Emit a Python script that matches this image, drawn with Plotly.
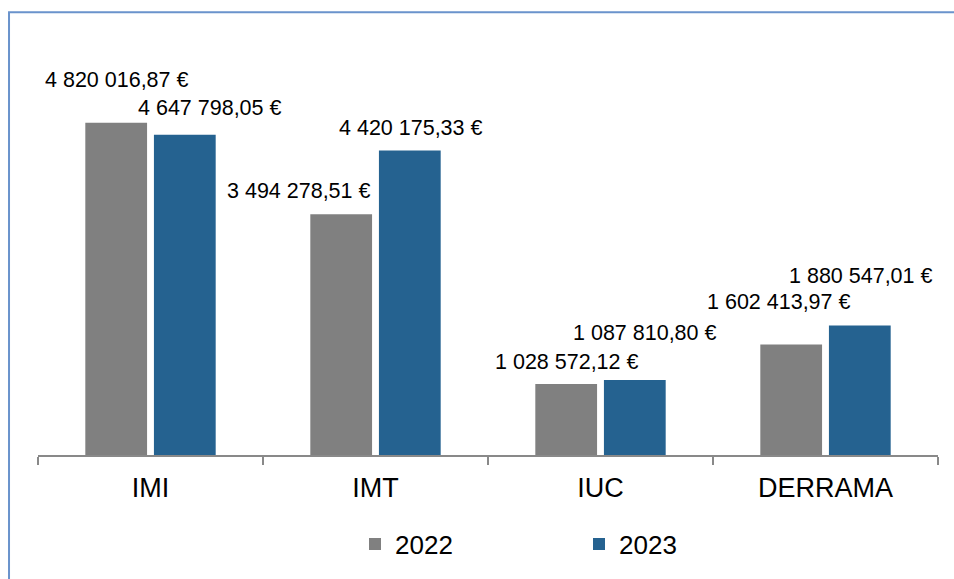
import plotly.graph_objects as go

# data
categories = ["IMI", "IMT", "IUC", "DERRAMA"]
years = ["2022", "2023"]
values_2022 = [4820016.87, 3494278.51, 1028572.12, 1602413.97]
values_2023 = [4647798.05, 4420175.33, 1087810.80, 1880547.01]

colors = {"2022": "#808080", "2023": "#256290"}
FONT = "Liberation Sans, Arial, sans-serif"

# label placement tweaks (px): extra horizontal shift, height above bar top
label_dx = {"2022": [0, -43, 0, -13], "2023": [24, 0, 9, 0]}
label_dy = {"2022": [43, 23, 22, 43], "2023": [27, 22, 47, 49]}
bar_offset = {"2022": -34, "2023": 35}


def euro(v):
    s = f"{v:,.2f}"
    s = s.replace(",", " ").replace(".", ",")
    return s + " €"


fig = go.Figure()
series = {"2022": values_2022, "2023": values_2023}
for yr in years:
    fig.add_trace(go.Bar(x=categories, y=series[yr], name=yr,
                         marker=dict(color=colors[yr], line=dict(width=0))))

# value labels
for yr in years:
    for i, cat in enumerate(categories):
        fig.add_annotation(x=cat, y=series[yr][i], xref="x", yref="y",
                           text=euro(series[yr][i]), showarrow=False,
                           xanchor="center", yanchor="middle",
                           xshift=bar_offset[yr] + label_dx[yr][i],
                           yshift=label_dy[yr][i],
                           font=dict(family=FONT, size=21.5, color="#000000"))

# outer frame
fig.add_shape(type="rect", xref="paper", yref="paper",
              x0=-0.0322, x1=1.05, y0=-0.5, y1=1.168,
              line=dict(color="#6A93CC", width=2), fillcolor="rgba(0,0,0,0)")

fig.update_layout(
    width=954, height=579,
    margin=dict(l=38, r=16, t=76, b=117),
    paper_bgcolor="white", plot_bgcolor="white",
    barmode="group", bargap=0.39, bargroupgap=0.1,
    font=dict(family=FONT, color="#000000"),
    showlegend=True,
    legend=dict(orientation="h", x=(355 - 38) / 900, xanchor="left",
                y=-0.235, yanchor="middle", entrywidth=179,
                font=dict(family=FONT, size=26), traceorder="normal"),
    xaxis=dict(type="category", range=[-0.5, 3.5], tickson="boundaries",
               ticks="outside", ticklen=8, tickcolor="#898989", tickwidth=1.5,
               showline=True, linecolor="#898989", linewidth=1.5,
               showgrid=False, tickfont=dict(family=FONT, size=27),
               ticklabelstandoff=8),
    yaxis=dict(range=[0, 5500000], visible=False, showgrid=False),
)

# drop the default 8px body margin so the figure fills the window
fig.write_html("out.html", config={"displayModeBar": False},
               post_script="document.body.style.margin='0px';")
